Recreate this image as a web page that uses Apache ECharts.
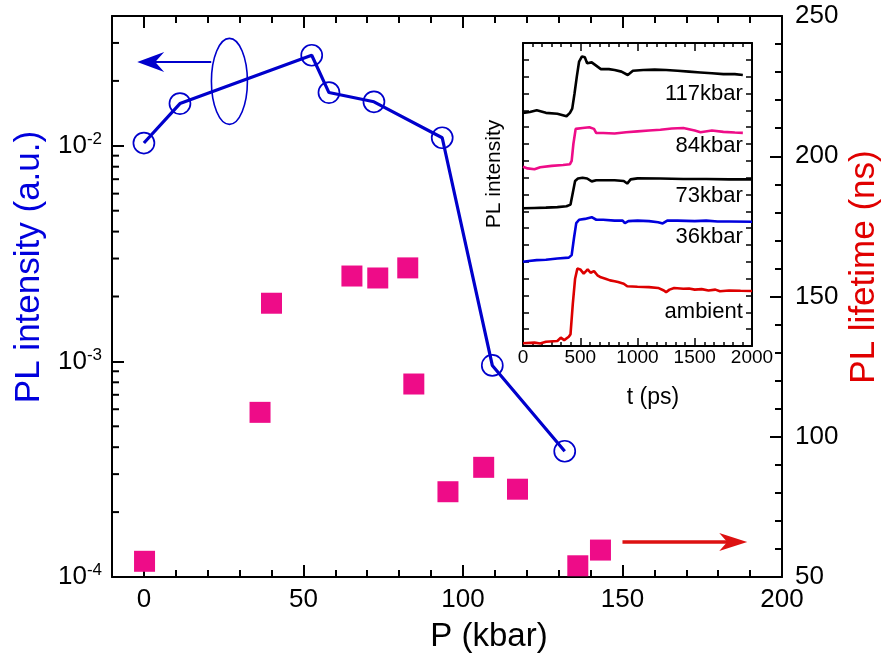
<!DOCTYPE html>
<html>
<head>
<meta charset="utf-8">
<script src="https://cdn.jsdelivr.net/npm/echarts@6/dist/echarts.min.js"></script>
<style>
html,body{margin:0;padding:0;background:#fff;}
#c{width:885px;height:657px;}
</style>
</head>
<body>
<div id="c"></div>
<script>
// ---------- data ----------
const xMajorTicks = [0, 50, 100, 150, 200];
const pressureIntensity = [0, 11.3, 52.6, 58.0, 72.1, 93.5, 109.2, 131.9];
const intensity = [0.0103, 0.0157, 0.0263, 0.01766, 0.0160, 0.0109, 0.000958, 0.000383];
const pressureLifetime = [0.2, 36.4, 40.0, 65.2, 73.3, 82.7, 84.6, 95.3, 106.5, 117.1, 136.0, 143.1];
const lifetime = [55.6, 108.7, 147.6, 157.3, 156.6, 160.2, 118.8, 80.4, 89.1, 81.3, 54.0, 59.6];
const logMinorTicks = [2e-4,3e-4,4e-4,5e-4,6e-4,7e-4,8e-4,9e-4,2e-3,3e-3,4e-3,5e-3,6e-3,7e-3,8e-3,9e-3,2e-2,3e-2];

const traceNames = ['117kbar', '84kbar', '73kbar', '36kbar', 'ambient'];
const t117 = [0,60,120,200,300,380,410,430,450,470,490,515,540,560,600,630,680,750,800,860,915,960,1050,1150,1250,1350,1450,1550,1650,1750,1850,1920];
const v117 = [13.85,13.9,14.0,13.85,13.8,13.65,13.85,14.1,15.0,16.0,16.9,17.2,17.15,16.8,16.85,16.7,16.45,16.45,16.4,16.3,16.1,16.35,16.4,16.42,16.4,16.35,16.3,16.25,16.2,16.15,16.15,16.1];
const t84 = [0,40,100,150,250,350,410,425,440,460,520,580,620,640,700,800,900,1000,1100,1200,1300,1400,1500,1550,1650,1750,1850,1920];
const v84 = [10.65,10.55,10.5,10.62,10.7,10.75,10.8,11.0,12.0,12.9,12.95,13.0,12.9,12.65,12.65,12.62,12.7,12.75,12.8,12.85,12.92,12.95,12.8,12.7,12.8,12.72,12.68,12.66];
const t73 = [0,100,200,300,380,415,435,455,480,520,560,600,640,700,800,880,910,940,1000,1200,1400,1600,1800,2000];
const v73 = [8.18,8.2,8.22,8.25,8.3,8.4,9.1,9.8,9.95,10.0,9.95,9.78,9.85,9.85,9.85,9.8,9.65,9.9,9.96,9.95,9.92,9.92,9.9,9.9];
const t36 = [0,50,120,200,300,400,425,445,465,490,540,600,640,700,800,870,890,920,1000,1100,1180,1220,1260,1350,1500,1600,1700,1800,2000];
const v36 = [5.0,5.05,5.1,5.12,5.2,5.25,5.4,6.4,7.3,7.5,7.55,7.65,7.5,7.5,7.45,7.45,7.3,7.42,7.45,7.42,7.35,7.28,7.45,7.45,7.42,7.45,7.4,7.4,7.38];
const tAmb = [0,100,150,200,300,330,360,400,415,435,455,475,500,530,565,590,620,650,680,720,760,800,830,880,910,1000,1100,1180,1230,1250,1280,1320,1400,1450,1500,1560,1620,1680,1720,1800,1900,2000];
const vAmb = [0.16,0.2,0.15,0.25,0.3,0.5,0.35,0.55,0.7,2.5,4.0,4.6,4.55,4.3,4.55,4.35,4.45,4.2,4.08,4.0,3.9,3.85,3.8,3.7,3.55,3.52,3.5,3.45,3.3,3.2,3.35,3.45,3.4,3.42,3.35,3.38,3.3,3.35,3.25,3.3,3.28,3.27];
const traceLabelY = [14.97, 11.88, 8.91, 6.48, 2.02];
const traceLabelT = 1920;

// ---------- style ----------
const FONT = "'Liberation Sans', Arial, sans-serif";
const BLUE = '#0000cc';
const PINK = '#ee0c88';
const RED = '#dd1111';
const X_MIN = -10, X_MAX = 200;

const zip = (a, b) => a.map((v, i) => [v, b[i]]);

const chart = echarts.init(document.getElementById('c'), null, {renderer: 'canvas'});

const mainXBase = {
  gridIndex: 0, type: 'value', min: X_MIN, max: X_MAX,
  splitLine: {show: false},
};
const traceColors = ['#000000', PINK, '#000000', '#0000dd', '#dd0000'];
const traceData = [zip(t117, v117), zip(t84, v84), zip(t73, v73), zip(t36, v36), zip(tAmb, vAmb)];

const option = {
  animation: false,
  backgroundColor: '#ffffff',
  textStyle: {fontFamily: FONT},
  grid: [
    {left: 112, top: 16, right: 103, bottom: 80, containLabel: false},
    {left: 523, top: 43, right: 133, bottom: 311, containLabel: false, show: true, backgroundColor: '#ffffff', borderWidth: 0}
  ],
  xAxis: [
    Object.assign({}, mainXBase, {
      position: 'bottom',
      axisLine: {show: true, onZero: false, lineStyle: {color: '#000', width: 2}},
      axisTick: {show: true, inside: true, length: 12, lineStyle: {color: '#000', width: 2}, customValues: xMajorTicks},
      axisLabel: {show: true, customValues: xMajorTicks, color: '#000', fontSize: 26, fontFamily: FONT, margin: 10, formatter: v => String(v)}
    }),
    Object.assign({}, mainXBase, {
      position: 'bottom', interval: 10,
      axisLine: {show: false, onZero: false},
      axisTick: {show: true, inside: true, length: 7, lineStyle: {color: '#000', width: 2}},
      axisLabel: {show: false}
    }),
    Object.assign({}, mainXBase, {
      position: 'top',
      axisLine: {show: true, onZero: false, lineStyle: {color: '#000', width: 2}},
      axisTick: {show: true, inside: true, length: 12, lineStyle: {color: '#000', width: 2}, customValues: xMajorTicks},
      axisLabel: {show: false}
    }),
    Object.assign({}, mainXBase, {
      position: 'top', interval: 10,
      axisLine: {show: false, onZero: false},
      axisTick: {show: true, inside: true, length: 7, lineStyle: {color: '#000', width: 2}},
      axisLabel: {show: false}
    }),
    {
      gridIndex: 1, type: 'value', min: 0, max: 2000, interval: 500, position: 'bottom',
      splitLine: {show: false},
      axisLine: {show: true, onZero: false, lineStyle: {color: '#000', width: 2}},
      axisTick: {show: true, inside: true, length: 8, lineStyle: {color: '#000', width: 1.5}},
      minorTick: {show: true, splitNumber: 6, length: 4, lineStyle: {color: '#000', width: 1.5}},
      axisLabel: {show: true, color: '#000', fontSize: 19, fontFamily: FONT, margin: 2, formatter: v => String(v)}
    },
    {
      gridIndex: 1, type: 'value', min: 0, max: 2000, interval: 500, position: 'top',
      splitLine: {show: false},
      axisLine: {show: true, onZero: false, lineStyle: {color: '#000', width: 2}},
      axisTick: {show: true, inside: true, length: 8, lineStyle: {color: '#000', width: 1.5}},
      minorTick: {show: true, splitNumber: 6, length: 4, lineStyle: {color: '#000', width: 1.5}},
      axisLabel: {show: false}
    }
  ],
  yAxis: [
    {
      gridIndex: 0, type: 'log', logBase: 10, min: 1e-4, max: 0.04, position: 'left',
      splitLine: {show: false},
      axisLine: {show: true, onZero: false, lineStyle: {color: '#000', width: 2}},
      axisTick: {show: true, inside: true, length: 12, lineStyle: {color: '#000', width: 2}},
      axisLabel: {
        show: true, margin: 10,
        formatter: function (v) {
          const e = Math.log10(v);
          if (Math.abs(e - Math.round(e)) > 1e-6) return '';
          return '{b|10}{s|' + Math.round(e) + '}';
        },
        rich: {
          b: {fontSize: 26, fontFamily: FONT, color: '#000', lineHeight: 30},
          s: {fontSize: 17, fontFamily: FONT, color: '#000', lineHeight: 17, verticalAlign: 'top'}
        }
      }
    },
    {
      gridIndex: 0, type: 'value', min: 50, max: 250, interval: 50, position: 'right',
      splitLine: {show: false},
      axisLine: {show: true, onZero: false, lineStyle: {color: '#000', width: 2}},
      axisTick: {show: true, inside: true, length: 12, lineStyle: {color: '#000', width: 2}},
      minorTick: {show: true, splitNumber: 5, length: 7, lineStyle: {color: '#000', width: 2}},
      axisLabel: {show: true, color: '#000', fontSize: 26, fontFamily: FONT, margin: 13}
    },
    {
      gridIndex: 1, type: 'value', min: 0, max: 18, interval: 1, position: 'left',
      splitLine: {show: false},
      axisLine: {show: true, onZero: false, lineStyle: {color: '#000', width: 2}},
      axisTick: {show: true, inside: true, length: 6, lineStyle: {color: '#000', width: 1.5}},
      axisLabel: {show: false}
    },
    {
      gridIndex: 1, type: 'value', min: 0, max: 18, interval: 1, position: 'right',
      splitLine: {show: false},
      axisLine: {show: true, onZero: false, lineStyle: {color: '#000', width: 2}},
      axisTick: {show: true, inside: true, length: 6, lineStyle: {color: '#000', width: 1.5}},
      axisLabel: {show: false}
    }
  ],
  series: [
    {
      name: 'intensity line', type: 'line', xAxisIndex: 0, yAxisIndex: 0,
      data: zip(pressureIntensity, intensity),
      showSymbol: false, symbol: 'none',
      lineStyle: {color: BLUE, width: 3.2}, z: 3
    },
    {
      name: 'intensity points', type: 'scatter', xAxisIndex: 0, yAxisIndex: 0,
      data: zip(pressureIntensity, intensity),
      symbol: 'circle', symbolSize: 21,
      itemStyle: {color: 'rgba(0,0,0,0)', borderColor: BLUE, borderWidth: 1.7, opacity: 1}, z: 4
    },
    {
      name: 'lifetime', type: 'scatter', xAxisIndex: 0, yAxisIndex: 1,
      data: zip(pressureLifetime, lifetime),
      symbol: 'rect', symbolSize: 21,
      itemStyle: {color: PINK, opacity: 1}, z: 3
    },
    {
      name: 'log minor ticks', type: 'custom', xAxisIndex: 0, yAxisIndex: 0,
      data: logMinorTicks.map(v => [X_MIN, v]),
      clip: false, silent: true,
      renderItem: function (params, api) {
        const p = api.coord([api.value(0), api.value(1)]);
        return {type: 'line', shape: {x1: p[0], y1: p[1], x2: p[0] + 7, y2: p[1]},
                style: {stroke: '#000', lineWidth: 2}};
      }, z: 5
    }
  ].concat(traceNames.map((n, i) => ({
    name: n, type: 'line', xAxisIndex: 4, yAxisIndex: 2,
    data: traceData[i], showSymbol: false, symbol: 'none',
    lineStyle: {color: traceColors[i], width: 2.6}, z: 6
  })))
};

chart.setOption(option);

// ---------- annotations computed from data coordinates ----------
const px = (si, pt) => chart.convertToPixel({seriesIndex: si}, pt);
const bTail = px(0, [21.1, 0.0245]);
const bTip = px(0, [-2.1, 0.0245]);
const ell = px(0, [26.8, 0.0199]);
const rTail = px(2, [150, 62.5]);
const rTip = px(2, [189.1, 62.5]);

const graphics = [
  {type: 'line', shape: {x1: bTail[0], y1: bTail[1], x2: bTip[0] + 12, y2: bTip[1]}, style: {stroke: BLUE, lineWidth: 2}, z: 10},
  {type: 'polygon', shape: {points: [[bTip[0], bTip[1]], [bTip[0] + 27, bTip[1] - 10], [bTip[0] + 18, bTip[1]], [bTip[0] + 27, bTip[1] + 10]]}, style: {fill: BLUE}, z: 10},
  {type: 'ellipse', shape: {cx: ell[0], cy: ell[1], rx: 18, ry: 43}, style: {stroke: BLUE, fill: 'none', lineWidth: 1.6}, z: 10},
  {type: 'line', shape: {x1: rTail[0], y1: rTail[1], x2: rTip[0] - 14, y2: rTip[1]}, style: {stroke: RED, lineWidth: 3.5}, z: 10},
  {type: 'polygon', shape: {points: [[rTip[0], rTip[1]], [rTip[0] - 28, rTip[1] - 9], [rTip[0] - 20, rTip[1]], [rTip[0] - 28, rTip[1] + 9]]}, style: {fill: RED}, z: 10},
  // axis titles
  {type: 'text', x: 489, y: 637, style: {text: 'P (kbar)', font: '33px ' + FONT, fill: '#000', align: 'center', verticalAlign: 'middle'}, z: 10},
  {type: 'text', x: 29, y: 267, rotation: Math.PI / 2, style: {text: 'PL intensity (a.u.)', font: '35px ' + FONT, fill: '#0000dd', align: 'center', verticalAlign: 'middle'}, z: 10},
  {type: 'text', x: 864, y: 267, rotation: Math.PI / 2, style: {text: 'PL lifetime (ns)', font: '35px ' + FONT, fill: '#e00000', align: 'center', verticalAlign: 'middle'}, z: 10},
  {type: 'text', x: 653, y: 398, style: {text: 't (ps)', font: '23px ' + FONT, fill: '#000', align: 'center', verticalAlign: 'middle'}, z: 10},
  {type: 'text', x: 494, y: 174, rotation: Math.PI / 2, style: {text: 'PL intensity', font: '21px ' + FONT, fill: '#000', align: 'center', verticalAlign: 'middle'}, z: 10}
];
traceNames.forEach((n, i) => {
  const p = px(4 + i, [traceLabelT, traceLabelY[i]]);
  graphics.push({type: 'text', x: p[0], y: p[1], style: {text: n, font: '22px ' + FONT, fill: '#000', align: 'right', verticalAlign: 'middle'}, z: 10});
});
chart.setOption({graphic: graphics});
</script>
</body>
</html>
